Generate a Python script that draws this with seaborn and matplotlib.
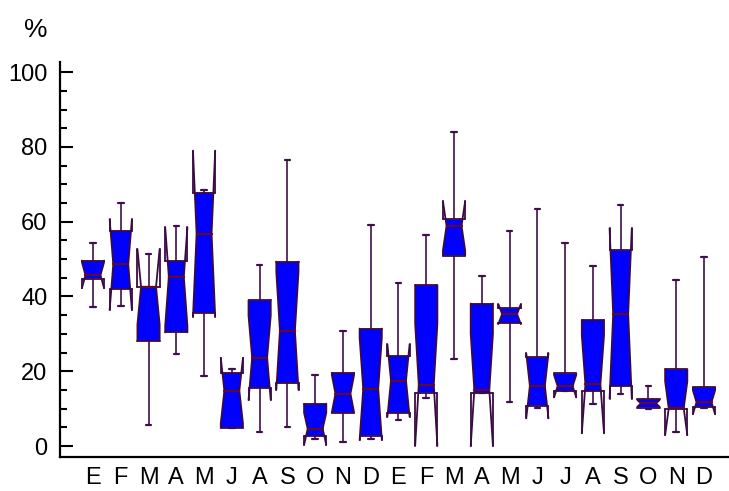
import matplotlib
matplotlib.use("Agg")
import matplotlib.pyplot as plt
import seaborn as sns

# ---- data ----
months = ['E', 'F', 'M', 'A', 'M', 'J', 'A', 'S', 'O', 'N', 'D',
          'E', 'F', 'M', 'A', 'M', 'J', 'J', 'A', 'S', 'O', 'N', 'D']
mins = [37.2, 37.5, 5.6, 24.6, 18.8, 4.9, 3.7, 5.0, 1.9, 1.2, 1.9,
        7.0, 12.9, 23.3, 14.1, 11.9, 10.2, 14.7, 11.2, 14.0, 10.0, 3.7, 10.2]
q1s = [44.8, 42.0, 28.1, 30.4, 35.6, 4.9, 15.6, 16.8, 2.7, 8.9, 2.8,
       8.9, 14.3, 50.9, 14.1, 32.9, 10.8, 14.7, 14.7, 16.0, 10.3, 10.0, 10.5]
medians = [45.7, 48.6, 42.6, 45.3, 56.8, 14.8, 23.6, 30.8, 4.6, 14.0, 15.3,
           17.5, 16.4, 58.9, 15.0, 35.3, 16.1, 16.0, 16.5, 35.3, 11.4, 10.1, 11.7]
q3s = [49.6, 57.6, 42.6, 49.5, 67.8, 19.6, 39.0, 49.3, 11.3, 19.6, 31.4,
       24.1, 43.0, 60.6, 38.1, 36.8, 23.7, 19.4, 33.7, 52.3, 12.5, 20.5, 15.7]
maxs = [54.4, 64.9, 51.3, 58.9, 68.6, 20.6, 48.5, 76.6, 18.9, 30.8, 59.2,
        43.7, 56.5, 84.0, 45.4, 57.6, 63.4, 54.4, 48.1, 64.4, 16.1, 44.4, 50.5]
notch_lo = [42.2, 36.4, 32.5, 32.1, 34.6, 6.0, 12.3, 15.0, 0.3, 9.0, 1.6,
            7.8, 0.1, 52.3, 0.0, 32.7, 7.4, 13.0, 3.4, 12.7, 10.5, 2.9, 8.5]
notch_hi = [49.2, 60.6, 52.7, 58.5, 79.0, 23.6, 34.9, 46.6, 8.9, 19.0, 29.0,
            27.2, 32.7, 65.5, 30.0, 37.9, 24.8, 19.0, 29.6, 58.2, 12.3, 17.3, 14.9]
yticks = [0, 20, 40, 60, 80, 100]

# ---- style ----
sns.set_style("ticks")
plt.rcParams['font.family'] = ['Liberation Sans', 'DejaVu Sans']
plt.rcParams['text.color'] = 'black'

FILL = '#0000ff'
EDGE = '#3a0a44'
WHISK = '#3f0f4c'
MED = '#5c0a30'
W = 0.40      # half box width
N = 0.27      # half width at the notch
CAP = 0.10    # half cap width
LW = 1.3

fig = plt.figure(figsize=(7.29, 4.91), dpi=100)
ax = fig.add_axes([60 / 729, 34 / 491, 669 / 729, 395.3 / 491])


def half_width(y, med, lo, hi):
    if y >= med:
        if hi <= med:
            return W
        t = min((y - med) / (hi - med), 1.0)
    else:
        if lo >= med:
            return W
        t = min((med - y) / (med - lo), 1.0)
    return N + (W - N) * t


for i in range(len(months)):
    mn, a, m, b, mx = mins[i], q1s[i], medians[i], q3s[i], maxs[i]
    lo, hi = notch_lo[i], notch_hi[i]

    # whiskers and caps
    ax.plot([i, i], [b, mx], color=WHISK, lw=1.2, zorder=2, solid_capstyle='butt')
    ax.plot([i, i], [mn, a], color=WHISK, lw=1.2, zorder=2, solid_capstyle='butt')
    ax.plot([i - CAP, i + CAP], [mx, mx], color=WHISK, lw=1.6, zorder=2)
    ax.plot([i - CAP, i + CAP], [mn, mn], color=WHISK, lw=1.6, zorder=2)

    # filled notched box clipped to [q1, q3]
    ys = sorted(set([a, b] + [v for v in (lo, m, hi) if a < v < b]))
    xr = [i + half_width(y, m, lo, hi) for y in ys]
    xl = [i - half_width(y, m, lo, hi) for y in ys]
    ax.fill(xr + xl[::-1], ys + ys[::-1], color=FILL, lw=0, zorder=3)

    # notch outline over full span
    bot, top = min(a, lo), max(b, hi)
    ys2 = sorted(set([bot, top, a, b] + [v for v in (lo, m, hi) if bot <= v <= top]))
    xr2 = [i + half_width(y, m, lo, hi) for y in ys2]
    xl2 = [i - half_width(y, m, lo, hi) for y in ys2]
    ax.plot(xr2, ys2, color=EDGE, lw=LW, zorder=4)
    ax.plot(xl2, ys2, color=EDGE, lw=LW, zorder=4)

    # outer verticals where the notch leaves the box
    if lo < a:
        ax.plot([i - W, i - W], [lo, a], color=EDGE, lw=LW, zorder=4)
        ax.plot([i + W, i + W], [lo, a], color=EDGE, lw=LW, zorder=4)
    if hi > b:
        ax.plot([i - W, i - W], [b, hi], color=EDGE, lw=LW, zorder=4)
        ax.plot([i + W, i + W], [b, hi], color=EDGE, lw=LW, zorder=4)

    # quartile lines
    ax.plot([i - W, i + W], [a, a], color=EDGE, lw=LW, zorder=4)
    ax.plot([i - W, i + W], [b, b], color=EDGE, lw=LW, zorder=4)

    # median
    hm = half_width(m, m, lo, hi)
    ax.plot([i - hm, i + hm], [m, m], color=MED, lw=1.7, zorder=5)

# ---- axes ----
ax.set_xlim(-1.188, 22.9)
ax.set_ylim(-2.94, 102.8)
ax.set_xticks(range(len(months)))
ax.set_xticklabels(months)
ax.set_yticks(yticks)
ax.set_yticks(range(0, 101, 5), minor=True)
ax.tick_params(axis='y', which='major', direction='in', length=9.4, width=1.5,
               labelsize=17, pad=9, color='black', labelcolor='black')
ax.tick_params(axis='y', which='minor', direction='in', length=5, width=1.5,
               color='black')
ax.tick_params(axis='x', which='both', length=0, labelsize=17, pad=7,
               labelcolor='black')
for s in ('top', 'right'):
    ax.spines[s].set_visible(False)
for s in ('left', 'bottom'):
    ax.spines[s].set_linewidth(1.6)
    ax.spines[s].set_color('black')
ax.set_xlabel('')
ax.set_ylabel('')

fig.text(36 / 729, 1 - 30 / 491, '%', fontsize=19, ha='center', va='center',
         color='black')

fig.savefig('out.png', dpi=100)
